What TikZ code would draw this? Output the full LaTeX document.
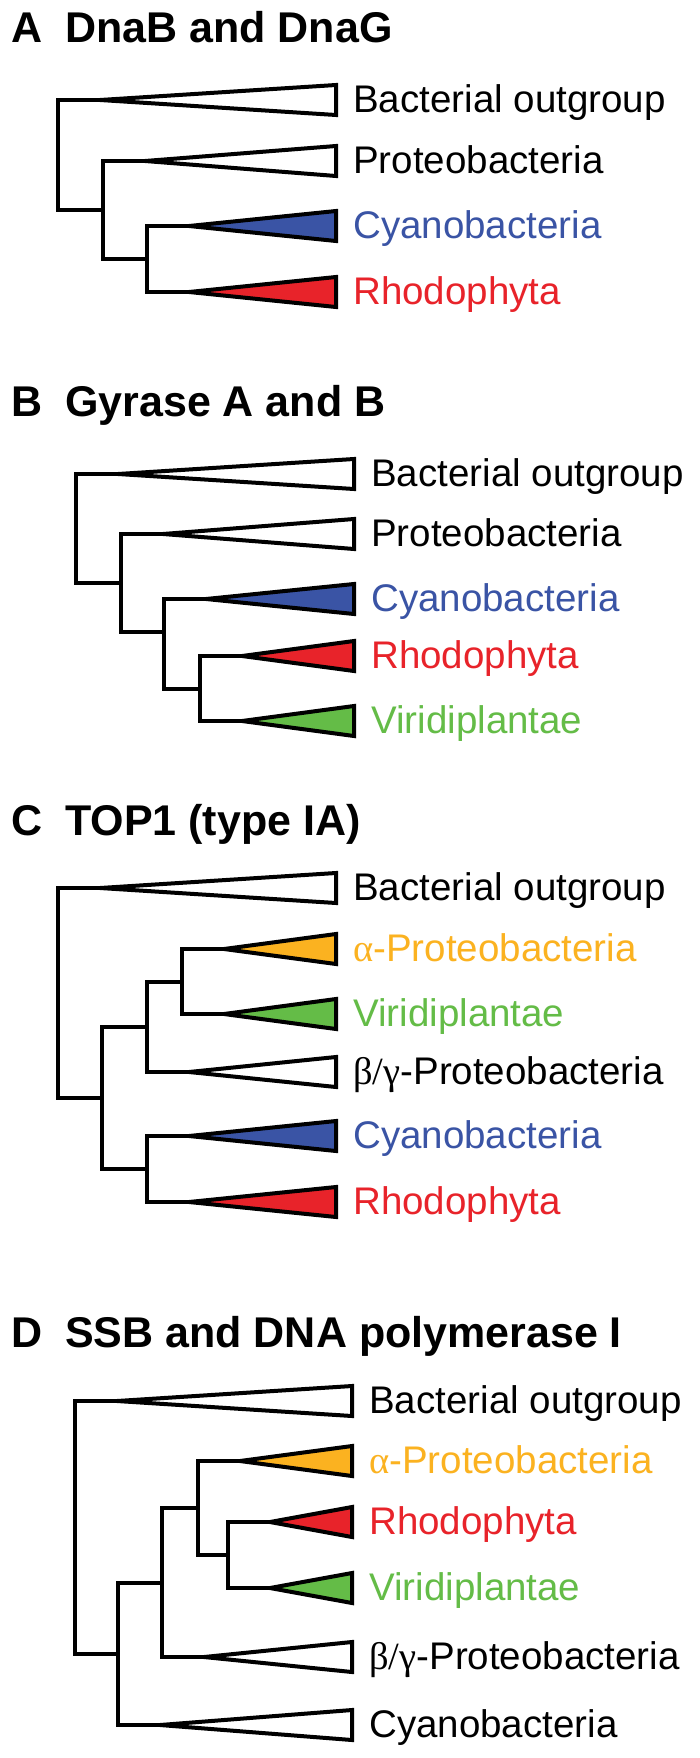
\documentclass[tikz,border=0pt]{standalone}
\usepackage{fontspec}
\setmainfont{Liberation Sans}
\newfontfamily\grk{Liberation Serif}
\definecolor{cyanob}{RGB}{58,84,165}
\definecolor{rhodo}{RGB}{232,35,42}
\definecolor{viridi}{RGB}{100,188,71}
\definecolor{alphap}{RGB}{251,178,32}
\newcommand\mkclade[7]{%
  \coordinate (#1) at (#2,#3);
  \draw[tri,fill=#5] (#1) -- (#4,#3-15) -- (#4,#3+15) -- cycle;
  \node[lab,text=#6] (#1-t) at (#4+17,#3+12.5) {#7};
}
\begin{document}
\begin{tikzpicture}[x=1pt,y=-1pt,
  br/.style={line width=4pt},
  tri/.style={line width=4pt,draw=black},
  lab/.style={anchor=base west,inner sep=0pt,font=\fontsize{38.5}{40}\selectfont},
  ttl/.style={anchor=base west,inner sep=0pt,font=\fontsize{43}{45}\selectfont\bfseries}]
\fill[white] (0,0) rectangle (700,1758);
\useasboundingbox (0,0) rectangle (700,1758);

% ---------------- Panel A
\node[ttl] (A-letter) at (11,43) {A};
\node[ttl] (A-title) at (65,43) {DnaB and DnaG};
\mkclade{A-ba}{100}{100}{336}{white}{black}{Bacterial outgroup}
\mkclade{A-pr}{145}{161}{336}{white}{black}{Proteobacteria}
\mkclade{A-cy}{189}{226}{336}{cyanob}{cyanob}{Cyanobacteria}
\mkclade{A-rh}{189}{292}{336}{rhodo}{rhodo}{Rhodophyta}
\coordinate (A-n2) at (147,259);
\coordinate (A-n1) at (103,209.5);
\coordinate (A-r) at (58,155);
\draw[br] (A-cy) -| (A-n2) |- (A-rh);
\draw[br] (A-pr) -| (A-n1) |- (A-n2);
\draw[br] (A-ba) -| (A-r) |- (A-n1);

% ---------------- Panel B
\node[ttl] (B-letter) at (11,416) {B};
\node[ttl] (B-title) at (65,416) {Gyrase A and B};
\mkclade{B-ba}{118}{474}{354}{white}{black}{Bacterial outgroup}
\mkclade{B-pr}{163}{534}{354}{white}{black}{Proteobacteria}
\mkclade{B-cy}{206}{599}{354}{cyanob}{cyanob}{Cyanobacteria}
\mkclade{B-rh}{242}{656}{354}{rhodo}{rhodo}{Rhodophyta}
\mkclade{B-vi}{242}{721}{354}{viridi}{viridi}{Viridiplantae}
\coordinate (B-n3) at (200,688.5);
\coordinate (B-n2) at (164,632);
\coordinate (B-n1) at (121,583);
\coordinate (B-r) at (76,528.5);
\draw[br] (B-rh) -| (B-n3) |- (B-vi);
\draw[br] (B-cy) -| (B-n2) |- (B-n3);
\draw[br] (B-pr) -| (B-n1) |- (B-n2);
\draw[br] (B-ba) -| (B-r) |- (B-n1);

% ---------------- Panel C
\node[ttl] (C-letter) at (11,835) {C};
\node[ttl] (C-title) at (65,835) {TOP1 (type IA)};
\mkclade{C-ba}{100}{888}{336}{white}{black}{Bacterial outgroup}
\mkclade{C-al}{224}{949}{336}{alphap}{alphap}{{\grk α}-Proteobacteria}
\mkclade{C-vi}{224}{1014}{336}{viridi}{viridi}{Viridiplantae}
\mkclade{C-bg}{189}{1072}{336}{white}{black}{{\grk β/γ}-Proteobacteria}
\mkclade{C-cy}{189}{1136}{336}{cyanob}{cyanob}{Cyanobacteria}
\mkclade{C-rh}{189}{1202}{336}{rhodo}{rhodo}{Rhodophyta}
\coordinate (C-n4) at (182,981.5);
\coordinate (C-n3) at (147,1026.75);
\coordinate (C-n5) at (147,1169);
\coordinate (C-n2) at (102,1097.9);
\coordinate (C-r) at (58,993);
\draw[br] (C-al) -| (C-n4) |- (C-vi);
\draw[br] (C-n4) -| (C-n3) |- (C-bg);
\draw[br] (C-cy) -| (C-n5) |- (C-rh);
\draw[br] (C-n3) -| (C-n2) |- (C-n5);
\draw[br] (C-ba) -| (C-r) |- (C-n2);

% ---------------- Panel D
\node[ttl] (D-letter) at (11,1347) {D};
\node[ttl] (D-title) at (65,1347) {SSB and DNA polymerase I};
\mkclade{D-ba}{117}{1401}{352}{white}{black}{Bacterial outgroup}
\mkclade{D-al}{240}{1461}{352}{alphap}{alphap}{{\grk α}-Proteobacteria}
\mkclade{D-rh}{270}{1522}{352}{rhodo}{rhodo}{Rhodophyta}
\mkclade{D-vi}{270}{1588}{352}{viridi}{viridi}{Viridiplantae}
\mkclade{D-bg}{204}{1657}{352}{white}{black}{{\grk β/γ}-Proteobacteria}
\mkclade{D-cy}{160}{1725}{352}{white}{black}{Cyanobacteria}
\coordinate (D-rv) at (228,1555);
\coordinate (D-an) at (198,1508);
\coordinate (D-p) at (162,1582.5);
\coordinate (D-q) at (118,1653.75);
\coordinate (D-r) at (75,1527);
\draw[br] (D-rh) -| (D-rv) |- (D-vi);
\draw[br] (D-al) -| (D-an) |- (D-rv);
\draw[br] (D-an) -| (D-p) |- (D-bg);
\draw[br] (D-p) -| (D-q) |- (D-cy);
\draw[br] (D-ba) -| (D-r) |- (D-q);
\end{tikzpicture}
\end{document}
